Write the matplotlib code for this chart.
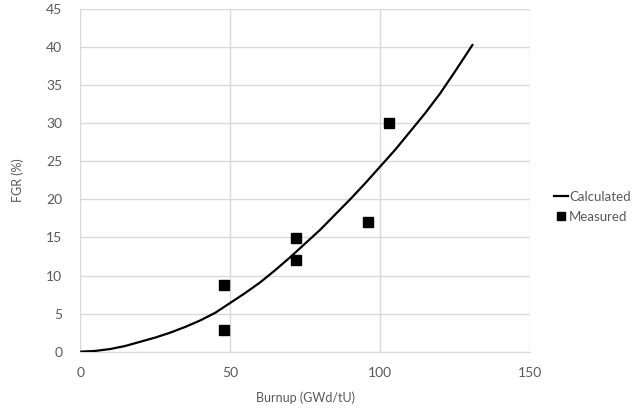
"""FGR vs burnup: calculated curve and measured points."""
import matplotlib
matplotlib.use("Agg")
import matplotlib.pyplot as plt
from matplotlib.lines import Line2D

plt.rcParams["font.family"] = ["Lato", "DejaVu Sans"]

# calculated curve, every 5 GWd/tU
calc_burnup = [0, 5, 10, 15, 20, 25, 30, 35, 40, 45, 50, 55, 60, 65, 70,
               75, 80, 85, 90, 95, 100, 105, 110, 115, 120, 125, 131]
calc_fgr = [0, 0.1, 0.35, 0.75, 1.3, 1.85, 2.5, 3.25, 4.1, 5.1, 6.4, 7.7,
            9.1, 10.7, 12.4, 14.2, 16.0, 18.0, 20.0, 22.1, 24.3, 26.5,
            28.9, 31.3, 33.9, 36.8, 40.4]

# measured points
meas_burnup = [48, 48, 72, 72, 96, 103]
meas_fgr = [8.7, 2.8, 14.9, 12.1, 17.0, 30.0]

GRID = "#d9d9d9"
TXT = "#595959"


def main():
    fig = plt.figure(figsize=(6.42, 4.12), dpi=100)
    ax = fig.add_axes([0.125, 0.1464, 0.7005, 0.8316])

    ax.plot(calc_burnup, calc_fgr, color="black", linewidth=1.6,
            solid_capstyle="butt", solid_joinstyle="round", zorder=3)
    ax.plot(meas_burnup, meas_fgr, linestyle="none", marker="s",
            markersize=6.5, color="black", zorder=4)

    ax.set_xlim(0, 150)
    ax.set_ylim(0, 45)
    ax.set_xticks([0, 50, 100, 150])
    ax.set_yticks(range(0, 46, 5))
    ax.grid(color=GRID, linewidth=1)
    ax.set_axisbelow(True)
    for s in ["top", "right", "left"]:
        ax.spines[s].set_visible(False)
    ax.spines["bottom"].set_color(GRID)
    ax.tick_params(length=0, labelsize=10, labelcolor=TXT)
    ax.tick_params(axis="y", pad=13)
    ax.tick_params(axis="x", pad=11)

    ax.set_xlabel("Burnup (GWd/tU)", fontsize=9, color=TXT, labelpad=9)
    ax.set_ylabel("FGR (%)", fontsize=9, color=TXT, labelpad=16)

    handles = [
        Line2D([], [], color="black", linewidth=1.6),
        Line2D([], [], linestyle="none", marker="s", markersize=5.5, color="black"),
    ]
    leg = fig.legend(handles, ["Calculated", "Measured"], loc="center left",
                     bbox_to_anchor=(0.845, 0.498), frameon=False,
                     fontsize=9.5, handlelength=1.0, handletextpad=0.1,
                     labelspacing=0.65)
    for t in leg.get_texts():
        t.set_color(TXT)

    fig.savefig("out.png", dpi=100)


if __name__ == "__main__":
    main()
